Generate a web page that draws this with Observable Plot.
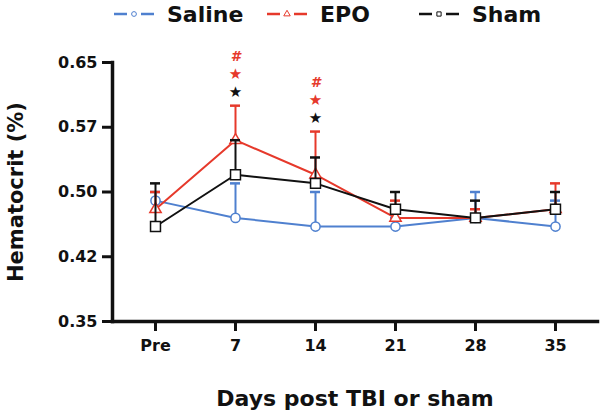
<!DOCTYPE html>
<html>
<head>
<meta charset="utf-8">
<script src="https://cdn.jsdelivr.net/npm/d3@7"></script>
<script src="https://cdn.jsdelivr.net/npm/@observablehq/plot@0.6"></script>
<style>
  html, body { margin: 0; padding: 0; background: #fff; }
  #wrap { width: 600px; height: 416px; position: relative; overflow: hidden; }
  #legend { position: relative; height: 30px; width: 600px; font-family: "DejaVu Sans", sans-serif; font-weight: bold; font-size: 22px; line-height: 30px; }
  .item { position: absolute; top: 0; height: 30px; display: flex; align-items: center; }
  .item svg { display: block; margin-top: -2px; }
  .item span { margin-left: 12px; color: #111; }
  #chart svg { display: block; }
</style>
</head>
<body>
<div id="wrap">
  <div id="legend"></div>
  <div id="chart"></div>
</div>
<script>
// ---- data ----
const days = ["Pre", "7", "14", "21", "28", "35"];
const groups = ["Saline", "EPO", "Sham"];
const salineMean = [0.49, 0.47, 0.46, 0.46, 0.47, 0.46];
const salineSem  = [0.01, 0.04, 0.04, 0.01, 0.03, 0.03];
const epoMean    = [0.48, 0.56, 0.52, 0.47, 0.47, 0.48];
const epoSem     = [0.02, 0.04, 0.05, 0.02, 0.01, 0.03];
const shamMean   = [0.46, 0.52, 0.51, 0.48, 0.47, 0.48];
const shamSem    = [0.05, 0.04, 0.03, 0.02, 0.02, 0.02];
const yTicks      = [0.35, 0.425, 0.5, 0.575, 0.65];
const yTickLabels = ["0.35", "0.42", "0.50", "0.57", "0.65"];
const sigDays  = ["7", "14"];
const sigTexts = ["★", "★", "#"];      // stacked from bottom to top
const xTitle = "Days post TBI or sham";
const yTitle = "Hematocrit (%)";

// ---- styling ----
const colors  = {Saline: "#4f80cf", EPO: "#e6392b", Sham: "#111111"};
const symbols = {Saline: "circle", EPO: "triangle", Sham: "square"};
const radii   = {Saline: 4.6, EPO: 4.2, Sham: 5.6};
const sigColors = ["#111111", "#e6392b", "#e6392b"];
const sigDy     = [-13, -31, -49];

const means = {Saline: salineMean, EPO: epoMean, Sham: shamMean};
const sems  = {Saline: salineSem, EPO: epoSem, Sham: shamSem};

const rows = {};
for (const g of groups) {
  rows[g] = days.map((d, i) => ({day: d, group: g, mean: means[g][i], top: means[g][i] + sems[g][i]}));
}
const sigRows = sigDays.map(d => {
  const i = days.indexOf(d);
  return {day: d, top: d3.max(groups, g => means[g][i] + sems[g][i])};
});

const marks = [
  Plot.axisY({ticks: yTicks, tickFormat: d => yTickLabels[yTicks.indexOf(d)], tickSize: 10, tickPadding: 5,
              strokeWidth: 3, fontSize: 16, label: null}),
  Plot.axisX({tickSize: 10, tickPadding: 8, strokeWidth: 3, fontSize: 16, label: null}),
  Plot.frame({anchor: "left", strokeWidth: 3.5}),
  Plot.frame({anchor: "bottom", strokeWidth: 3.5})
];
for (const g of groups) {
  marks.push(
    Plot.ruleX(rows[g], {x: "day", y1: "mean", y2: "top", stroke: colors[g], strokeWidth: 2}),
    Plot.ruleY(rows[g], {x1: "day", x2: "day", y: "top", stroke: colors[g], strokeWidth: 2.5, insetLeft: -5, insetRight: -5}),
    Plot.line(rows[g], {x: "day", y: "mean", stroke: colors[g], strokeWidth: 2}),
    Plot.dot(rows[g], {x: "day", y: "mean", symbol: () => symbols[g], r: radii[g], fill: "white", stroke: colors[g], strokeWidth: 1.5})
  );
}
sigTexts.forEach((t, k) => {
  marks.push(Plot.text(sigRows, {x: "day", y: "top", text: () => t, fill: sigColors[k], dy: sigDy[k],
    fontSize: t === "#" ? 14 : 15, fontWeight: "bold", lineAnchor: "middle", fontStyle: t === "#" ? "italic" : "normal"}));
});
marks.push(
  Plot.text([xTitle], {frameAnchor: "bottom", text: d => d, dy: 77, fontSize: 22, fontWeight: "bold", lineAnchor: "middle", fill: "#111"}),
  Plot.text([yTitle], {frameAnchor: "left", text: d => d, dx: -96, rotate: -90, fontSize: 21, fontWeight: "bold", lineAnchor: "middle", textAnchor: "middle", fill: "#111"})
);

const chart = Plot.plot({
  width: 600, height: 386,
  marginLeft: 112, marginRight: 3, marginTop: 32, marginBottom: 95,
  style: {fontFamily: "DejaVu Sans", fontWeight: "bold", background: "white", color: "#111", overflow: "visible"},
  x: {type: "point", domain: days, padding: 0.5},
  y: {domain: [0.35, 0.65]},
  symbol: {type: "identity"},
  marks
});
document.getElementById("chart").appendChild(chart);

// ---- legend ----
const legendLeft = {Saline: 113, EPO: 266, Sham: 418};
const legend = d3.select("#legend");
for (const g of groups) {
  const item = legend.append("div").attr("class", "item").style("left", legendLeft[g] + "px");
  const s = item.append("svg").attr("width", 42).attr("height", 12);
  s.append("line").attr("x1", 1).attr("x2", 14).attr("y1", 6).attr("y2", 6).attr("stroke", colors[g]).attr("stroke-width", 2.5);
  s.append("line").attr("x1", 28).attr("x2", 41).attr("y1", 6).attr("y2", 6).attr("stroke", colors[g]).attr("stroke-width", 2.5);
  s.append("path").attr("transform", "translate(21,6)")
    .attr("d", d3.symbol(g === "Saline" ? d3.symbolCircle : g === "EPO" ? d3.symbolTriangle : d3.symbolSquare, 18)())
    .attr("fill", "white").attr("stroke", colors[g]).attr("stroke-width", 1);
  item.append("span").text(g);
}
</script>
</body>
</html>
